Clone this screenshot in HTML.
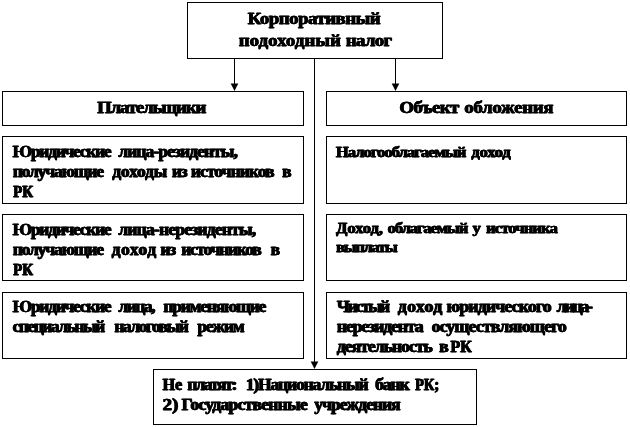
<!DOCTYPE html>
<html><head><meta charset="utf-8"><title>diagram</title>
<style>
html,body{margin:0;padding:0;background:#fff;}
body{width:630px;height:427px;overflow:hidden;position:relative;font-family:"Liberation Serif",serif;}
.b{position:absolute;box-sizing:border-box;border:1px solid #000;background:#fff;}
svg{position:absolute;left:0;top:0;}
text{font-family:"Liberation Serif",serif;font-weight:bold;fill:#000;stroke:#000;stroke-width:0.3px;stroke-linejoin:round;}
svg{filter:grayscale(1);}
</style></head><body>
<div class="b" style="left:187px;top:2px;width:256px;height:57px"></div>
<div class="b" style="left:2px;top:91px;width:302px;height:35px"></div>
<div class="b" style="left:326px;top:91px;width:301px;height:35px"></div>
<div class="b" style="left:2px;top:136px;width:302px;height:68px"></div>
<div class="b" style="left:326px;top:136px;width:301px;height:68px"></div>
<div class="b" style="left:2px;top:214px;width:302px;height:67px"></div>
<div class="b" style="left:326px;top:214px;width:301px;height:67px"></div>
<div class="b" style="left:2px;top:292px;width:302px;height:67px"></div>
<div class="b" style="left:326px;top:292px;width:301px;height:67px"></div>
<div class="b" style="left:153px;top:369px;width:324px;height:56px"></div>
<svg width="630" height="427" viewBox="0 0 630 427">
<line x1="234.5" y1="59" x2="234.5" y2="88" stroke="#000" stroke-width="1"/>
<polygon points="230.7,83.4 238.3,83.4 234.5,91" fill="#000"/>
<line x1="395.5" y1="59" x2="395.5" y2="88" stroke="#000" stroke-width="1"/>
<polygon points="391.7,83.4 399.3,83.4 395.5,91" fill="#000"/>
<line x1="314.5" y1="59" x2="314.5" y2="366" stroke="#000" stroke-width="1"/>
<polygon points="310.7,361.4 318.3,361.4 314.5,369" fill="#000"/>
<text transform="translate(247.30,23.8) scale(1,0.9091)" font-size="18.70" textLength="132.9" lengthAdjust="spacing">Корпоративный</text>
<text transform="translate(247.70,23.8) scale(1,0.9091)" font-size="18.70" textLength="132.9" lengthAdjust="spacing">Корпоративный</text>
<text transform="translate(248.10,23.8) scale(1,0.9091)" font-size="18.70" textLength="132.9" lengthAdjust="spacing">Корпоративный</text>
<text transform="translate(238.40,45.8) scale(1,0.9091)" font-size="18.70" textLength="102.1" lengthAdjust="spacing">подоходный</text>
<text transform="translate(238.80,45.8) scale(1,0.9091)" font-size="18.70" textLength="102.1" lengthAdjust="spacing">подоходный</text>
<text transform="translate(239.20,45.8) scale(1,0.9091)" font-size="18.70" textLength="102.1" lengthAdjust="spacing">подоходный</text>
<text transform="translate(345.40,45.8) scale(1,0.9091)" font-size="18.70" textLength="46.3" lengthAdjust="spacing">налог</text>
<text transform="translate(345.80,45.8) scale(1,0.9091)" font-size="18.70" textLength="46.3" lengthAdjust="spacing">налог</text>
<text transform="translate(346.20,45.8) scale(1,0.9091)" font-size="18.70" textLength="46.3" lengthAdjust="spacing">налог</text>
<text transform="translate(96.80,112.9) scale(1,0.9091)" font-size="18.70" textLength="109.1" lengthAdjust="spacing">Плательщики</text>
<text transform="translate(97.20,112.9) scale(1,0.9091)" font-size="18.70" textLength="109.1" lengthAdjust="spacing">Плательщики</text>
<text transform="translate(97.60,112.9) scale(1,0.9091)" font-size="18.70" textLength="109.1" lengthAdjust="spacing">Плательщики</text>
<text transform="translate(399.00,112.9) scale(1,0.9091)" font-size="18.70" textLength="59.8" lengthAdjust="spacing">Объект</text>
<text transform="translate(399.40,112.9) scale(1,0.9091)" font-size="18.70" textLength="59.8" lengthAdjust="spacing">Объект</text>
<text transform="translate(399.80,112.9) scale(1,0.9091)" font-size="18.70" textLength="59.8" lengthAdjust="spacing">Объект</text>
<text transform="translate(463.90,112.9) scale(1,0.9091)" font-size="18.70" textLength="89.2" lengthAdjust="spacing">обложения</text>
<text transform="translate(464.30,112.9) scale(1,0.9091)" font-size="18.70" textLength="89.2" lengthAdjust="spacing">обложения</text>
<text transform="translate(464.70,112.9) scale(1,0.9091)" font-size="18.70" textLength="89.2" lengthAdjust="spacing">обложения</text>
<text transform="translate(12.20,156.8) scale(1,0.9091)" font-size="17.38" textLength="99.0" lengthAdjust="spacing">Юридические</text>
<text transform="translate(12.60,156.8) scale(1,0.9091)" font-size="17.38" textLength="99.0" lengthAdjust="spacing">Юридические</text>
<text transform="translate(13.00,156.8) scale(1,0.9091)" font-size="17.38" textLength="99.0" lengthAdjust="spacing">Юридические</text>
<text transform="translate(118.00,156.8) scale(1,0.9091)" font-size="17.38" textLength="119.5" lengthAdjust="spacing">лица-резиденты,</text>
<text transform="translate(118.40,156.8) scale(1,0.9091)" font-size="17.38" textLength="119.5" lengthAdjust="spacing">лица-резиденты,</text>
<text transform="translate(118.80,156.8) scale(1,0.9091)" font-size="17.38" textLength="119.5" lengthAdjust="spacing">лица-резиденты,</text>
<text transform="translate(12.40,176.6) scale(1,0.9091)" font-size="17.38" textLength="91.3" lengthAdjust="spacing">получающие</text>
<text transform="translate(12.80,176.6) scale(1,0.9091)" font-size="17.38" textLength="91.3" lengthAdjust="spacing">получающие</text>
<text transform="translate(13.20,176.6) scale(1,0.9091)" font-size="17.38" textLength="91.3" lengthAdjust="spacing">получающие</text>
<text transform="translate(111.90,176.6) scale(1,0.9091)" font-size="17.38" textLength="55.0" lengthAdjust="spacing">доходы</text>
<text transform="translate(112.30,176.6) scale(1,0.9091)" font-size="17.38" textLength="55.0" lengthAdjust="spacing">доходы</text>
<text transform="translate(112.70,176.6) scale(1,0.9091)" font-size="17.38" textLength="55.0" lengthAdjust="spacing">доходы</text>
<text transform="translate(171.50,176.6) scale(1,0.9091)" font-size="17.38" textLength="15.7" lengthAdjust="spacing">из</text>
<text transform="translate(171.90,176.6) scale(1,0.9091)" font-size="17.38" textLength="15.7" lengthAdjust="spacing">из</text>
<text transform="translate(172.30,176.6) scale(1,0.9091)" font-size="17.38" textLength="15.7" lengthAdjust="spacing">из</text>
<text transform="translate(190.50,176.6) scale(1,0.9091)" font-size="17.38" textLength="83.7" lengthAdjust="spacing">источников</text>
<text transform="translate(190.90,176.6) scale(1,0.9091)" font-size="17.38" textLength="83.7" lengthAdjust="spacing">источников</text>
<text transform="translate(191.30,176.6) scale(1,0.9091)" font-size="17.38" textLength="83.7" lengthAdjust="spacing">источников</text>
<text transform="translate(281.80,176.6) scale(1,0.9091)" font-size="17.38" textLength="9.0" lengthAdjust="spacing">в</text>
<text transform="translate(282.20,176.6) scale(1,0.9091)" font-size="17.38" textLength="9.0" lengthAdjust="spacing">в</text>
<text transform="translate(282.60,176.6) scale(1,0.9091)" font-size="17.38" textLength="9.0" lengthAdjust="spacing">в</text>
<text x="12.80" y="197" font-size="15.80" textLength="19.8" lengthAdjust="spacingAndGlyphs">РК</text>
<text x="13.20" y="197" font-size="15.80" textLength="19.8" lengthAdjust="spacingAndGlyphs">РК</text>
<text x="13.60" y="197" font-size="15.80" textLength="19.8" lengthAdjust="spacingAndGlyphs">РК</text>
<text transform="translate(12.20,234.8) scale(1,0.9091)" font-size="17.38" textLength="99.0" lengthAdjust="spacing">Юридические</text>
<text transform="translate(12.60,234.8) scale(1,0.9091)" font-size="17.38" textLength="99.0" lengthAdjust="spacing">Юридические</text>
<text transform="translate(13.00,234.8) scale(1,0.9091)" font-size="17.38" textLength="99.0" lengthAdjust="spacing">Юридические</text>
<text transform="translate(118.00,234.8) scale(1,0.9091)" font-size="17.38" textLength="137.8" lengthAdjust="spacing">лица-нерезиденты,</text>
<text transform="translate(118.40,234.8) scale(1,0.9091)" font-size="17.38" textLength="137.8" lengthAdjust="spacing">лица-нерезиденты,</text>
<text transform="translate(118.80,234.8) scale(1,0.9091)" font-size="17.38" textLength="137.8" lengthAdjust="spacing">лица-нерезиденты,</text>
<text transform="translate(12.40,254.6) scale(1,0.9091)" font-size="17.38" textLength="91.3" lengthAdjust="spacing">получающие</text>
<text transform="translate(12.80,254.6) scale(1,0.9091)" font-size="17.38" textLength="91.3" lengthAdjust="spacing">получающие</text>
<text transform="translate(13.20,254.6) scale(1,0.9091)" font-size="17.38" textLength="91.3" lengthAdjust="spacing">получающие</text>
<text transform="translate(111.30,254.6) scale(1,0.9091)" font-size="17.38" textLength="44.4" lengthAdjust="spacing">доход</text>
<text transform="translate(111.70,254.6) scale(1,0.9091)" font-size="17.38" textLength="44.4" lengthAdjust="spacing">доход</text>
<text transform="translate(112.10,254.6) scale(1,0.9091)" font-size="17.38" textLength="44.4" lengthAdjust="spacing">доход</text>
<text transform="translate(160.10,254.6) scale(1,0.9091)" font-size="17.38" textLength="15.7" lengthAdjust="spacing">из</text>
<text transform="translate(160.50,254.6) scale(1,0.9091)" font-size="17.38" textLength="15.7" lengthAdjust="spacing">из</text>
<text transform="translate(160.90,254.6) scale(1,0.9091)" font-size="17.38" textLength="15.7" lengthAdjust="spacing">из</text>
<text transform="translate(180.90,254.6) scale(1,0.9091)" font-size="17.38" textLength="80.4" lengthAdjust="spacing">источников</text>
<text transform="translate(181.30,254.6) scale(1,0.9091)" font-size="17.38" textLength="80.4" lengthAdjust="spacing">источников</text>
<text transform="translate(181.70,254.6) scale(1,0.9091)" font-size="17.38" textLength="80.4" lengthAdjust="spacing">источников</text>
<text transform="translate(270.30,254.6) scale(1,0.9091)" font-size="17.38" textLength="9.1" lengthAdjust="spacing">в</text>
<text transform="translate(270.70,254.6) scale(1,0.9091)" font-size="17.38" textLength="9.1" lengthAdjust="spacing">в</text>
<text transform="translate(271.10,254.6) scale(1,0.9091)" font-size="17.38" textLength="9.1" lengthAdjust="spacing">в</text>
<text x="12.80" y="275" font-size="15.80" textLength="19.8" lengthAdjust="spacingAndGlyphs">РК</text>
<text x="13.20" y="275" font-size="15.80" textLength="19.8" lengthAdjust="spacingAndGlyphs">РК</text>
<text x="13.60" y="275" font-size="15.80" textLength="19.8" lengthAdjust="spacingAndGlyphs">РК</text>
<text transform="translate(12.20,312.3) scale(1,0.9091)" font-size="17.38" textLength="99.0" lengthAdjust="spacing">Юридические</text>
<text transform="translate(12.60,312.3) scale(1,0.9091)" font-size="17.38" textLength="99.0" lengthAdjust="spacing">Юридические</text>
<text transform="translate(13.00,312.3) scale(1,0.9091)" font-size="17.38" textLength="99.0" lengthAdjust="spacing">Юридические</text>
<text transform="translate(118.00,312.3) scale(1,0.9091)" font-size="17.38" textLength="37.1" lengthAdjust="spacing">лица,</text>
<text transform="translate(118.40,312.3) scale(1,0.9091)" font-size="17.38" textLength="37.1" lengthAdjust="spacing">лица,</text>
<text transform="translate(118.80,312.3) scale(1,0.9091)" font-size="17.38" textLength="37.1" lengthAdjust="spacing">лица,</text>
<text transform="translate(163.10,312.3) scale(1,0.9091)" font-size="17.38" textLength="102.8" lengthAdjust="spacing">применяющие</text>
<text transform="translate(163.50,312.3) scale(1,0.9091)" font-size="17.38" textLength="102.8" lengthAdjust="spacing">применяющие</text>
<text transform="translate(163.90,312.3) scale(1,0.9091)" font-size="17.38" textLength="102.8" lengthAdjust="spacing">применяющие</text>
<text transform="translate(12.20,332.1) scale(1,0.9091)" font-size="17.38" textLength="92.6" lengthAdjust="spacing">специальный</text>
<text transform="translate(12.60,332.1) scale(1,0.9091)" font-size="17.38" textLength="92.6" lengthAdjust="spacing">специальный</text>
<text transform="translate(13.00,332.1) scale(1,0.9091)" font-size="17.38" textLength="92.6" lengthAdjust="spacing">специальный</text>
<text transform="translate(114.00,332.1) scale(1,0.9091)" font-size="17.38" textLength="74.4" lengthAdjust="spacing">налоговый</text>
<text transform="translate(114.40,332.1) scale(1,0.9091)" font-size="17.38" textLength="74.4" lengthAdjust="spacing">налоговый</text>
<text transform="translate(114.80,332.1) scale(1,0.9091)" font-size="17.38" textLength="74.4" lengthAdjust="spacing">налоговый</text>
<text transform="translate(196.90,332.1) scale(1,0.9091)" font-size="17.38" textLength="47.4" lengthAdjust="spacing">режим</text>
<text transform="translate(197.30,332.1) scale(1,0.9091)" font-size="17.38" textLength="47.4" lengthAdjust="spacing">режим</text>
<text transform="translate(197.70,332.1) scale(1,0.9091)" font-size="17.38" textLength="47.4" lengthAdjust="spacing">режим</text>
<text transform="translate(335.50,157.4) scale(1,0.9091)" font-size="16.50" textLength="130.4" lengthAdjust="spacing">Налогооблагаемый</text>
<text transform="translate(335.90,157.4) scale(1,0.9091)" font-size="16.50" textLength="130.4" lengthAdjust="spacing">Налогооблагаемый</text>
<text transform="translate(336.30,157.4) scale(1,0.9091)" font-size="16.50" textLength="130.4" lengthAdjust="spacing">Налогооблагаемый</text>
<text transform="translate(471.00,157.4) scale(1,0.9091)" font-size="16.50" textLength="39.3" lengthAdjust="spacing">доход</text>
<text transform="translate(471.40,157.4) scale(1,0.9091)" font-size="16.50" textLength="39.3" lengthAdjust="spacing">доход</text>
<text transform="translate(471.80,157.4) scale(1,0.9091)" font-size="16.50" textLength="39.3" lengthAdjust="spacing">доход</text>
<text transform="translate(335.70,233.4) scale(1,0.9091)" font-size="16.50" textLength="46.9" lengthAdjust="spacing">Доход,</text>
<text transform="translate(336.10,233.4) scale(1,0.9091)" font-size="16.50" textLength="46.9" lengthAdjust="spacing">Доход,</text>
<text transform="translate(336.50,233.4) scale(1,0.9091)" font-size="16.50" textLength="46.9" lengthAdjust="spacing">Доход,</text>
<text transform="translate(387.20,233.4) scale(1,0.9091)" font-size="16.50" textLength="80.7" lengthAdjust="spacing">облагаемый</text>
<text transform="translate(387.60,233.4) scale(1,0.9091)" font-size="16.50" textLength="80.7" lengthAdjust="spacing">облагаемый</text>
<text transform="translate(388.00,233.4) scale(1,0.9091)" font-size="16.50" textLength="80.7" lengthAdjust="spacing">облагаемый</text>
<text transform="translate(472.20,233.4) scale(1,0.9091)" font-size="16.50" textLength="9.3" lengthAdjust="spacing">у</text>
<text transform="translate(472.60,233.4) scale(1,0.9091)" font-size="16.50" textLength="9.3" lengthAdjust="spacing">у</text>
<text transform="translate(473.00,233.4) scale(1,0.9091)" font-size="16.50" textLength="9.3" lengthAdjust="spacing">у</text>
<text transform="translate(485.70,233.4) scale(1,0.9091)" font-size="16.50" textLength="71.7" lengthAdjust="spacing">источника</text>
<text transform="translate(486.10,233.4) scale(1,0.9091)" font-size="16.50" textLength="71.7" lengthAdjust="spacing">источника</text>
<text transform="translate(486.50,233.4) scale(1,0.9091)" font-size="16.50" textLength="71.7" lengthAdjust="spacing">источника</text>
<text transform="translate(335.70,252.2) scale(1,0.9091)" font-size="16.50" textLength="61.6" lengthAdjust="spacing">выплаты</text>
<text transform="translate(336.10,252.2) scale(1,0.9091)" font-size="16.50" textLength="61.6" lengthAdjust="spacing">выплаты</text>
<text transform="translate(336.50,252.2) scale(1,0.9091)" font-size="16.50" textLength="61.6" lengthAdjust="spacing">выплаты</text>
<text transform="translate(336.40,312.3) scale(1,0.9091)" font-size="17.71" textLength="53.3" lengthAdjust="spacing">Чистый</text>
<text transform="translate(336.80,312.3) scale(1,0.9091)" font-size="17.71" textLength="53.3" lengthAdjust="spacing">Чистый</text>
<text transform="translate(337.20,312.3) scale(1,0.9091)" font-size="17.71" textLength="53.3" lengthAdjust="spacing">Чистый</text>
<text transform="translate(397.40,312.3) scale(1,0.9091)" font-size="17.71" textLength="44.4" lengthAdjust="spacing">доход</text>
<text transform="translate(397.80,312.3) scale(1,0.9091)" font-size="17.71" textLength="44.4" lengthAdjust="spacing">доход</text>
<text transform="translate(398.20,312.3) scale(1,0.9091)" font-size="17.71" textLength="44.4" lengthAdjust="spacing">доход</text>
<text transform="translate(446.20,312.3) scale(1,0.9091)" font-size="17.71" textLength="105.0" lengthAdjust="spacing">юридического</text>
<text transform="translate(446.60,312.3) scale(1,0.9091)" font-size="17.71" textLength="105.0" lengthAdjust="spacing">юридического</text>
<text transform="translate(447.00,312.3) scale(1,0.9091)" font-size="17.71" textLength="105.0" lengthAdjust="spacing">юридического</text>
<text transform="translate(556.30,312.3) scale(1,0.9091)" font-size="17.71" textLength="36.3" lengthAdjust="spacing">лица-</text>
<text transform="translate(556.70,312.3) scale(1,0.9091)" font-size="17.71" textLength="36.3" lengthAdjust="spacing">лица-</text>
<text transform="translate(557.10,312.3) scale(1,0.9091)" font-size="17.71" textLength="36.3" lengthAdjust="spacing">лица-</text>
<text transform="translate(336.40,331.8) scale(1,0.9091)" font-size="17.71" textLength="86.8" lengthAdjust="spacing">нерезидента</text>
<text transform="translate(336.80,331.8) scale(1,0.9091)" font-size="17.71" textLength="86.8" lengthAdjust="spacing">нерезидента</text>
<text transform="translate(337.20,331.8) scale(1,0.9091)" font-size="17.71" textLength="86.8" lengthAdjust="spacing">нерезидента</text>
<text transform="translate(431.20,331.8) scale(1,0.9091)" font-size="17.71" textLength="135.2" lengthAdjust="spacing">осуществляющего</text>
<text transform="translate(431.60,331.8) scale(1,0.9091)" font-size="17.71" textLength="135.2" lengthAdjust="spacing">осуществляющего</text>
<text transform="translate(432.00,331.8) scale(1,0.9091)" font-size="17.71" textLength="135.2" lengthAdjust="spacing">осуществляющего</text>
<text transform="translate(336.40,351.9) scale(1,0.9091)" font-size="17.71" textLength="96.0" lengthAdjust="spacing">деятельность</text>
<text transform="translate(336.80,351.9) scale(1,0.9091)" font-size="17.71" textLength="96.0" lengthAdjust="spacing">деятельность</text>
<text transform="translate(337.20,351.9) scale(1,0.9091)" font-size="17.71" textLength="96.0" lengthAdjust="spacing">деятельность</text>
<text transform="translate(438.80,351.9) scale(1,0.9091)" font-size="17.71" textLength="8.8" lengthAdjust="spacing">в</text>
<text transform="translate(439.20,351.9) scale(1,0.9091)" font-size="17.71" textLength="8.8" lengthAdjust="spacing">в</text>
<text transform="translate(439.60,351.9) scale(1,0.9091)" font-size="17.71" textLength="8.8" lengthAdjust="spacing">в</text>
<text x="450.00" y="351.9" font-size="16.10" textLength="21.4" lengthAdjust="spacingAndGlyphs">РК</text>
<text x="450.40" y="351.9" font-size="16.10" textLength="21.4" lengthAdjust="spacingAndGlyphs">РК</text>
<text x="450.80" y="351.9" font-size="16.10" textLength="21.4" lengthAdjust="spacingAndGlyphs">РК</text>
<text x="162.20" y="389.8" font-size="15.80" textLength="19.6" lengthAdjust="spacingAndGlyphs">Не</text>
<text x="162.60" y="389.8" font-size="15.80" textLength="19.6" lengthAdjust="spacingAndGlyphs">Не</text>
<text x="163.00" y="389.8" font-size="15.80" textLength="19.6" lengthAdjust="spacingAndGlyphs">Не</text>
<text transform="translate(187.00,389.8) scale(1,0.9091)" font-size="17.38" textLength="50.0" lengthAdjust="spacing">платят:</text>
<text transform="translate(187.40,389.8) scale(1,0.9091)" font-size="17.38" textLength="50.0" lengthAdjust="spacing">платят:</text>
<text transform="translate(187.80,389.8) scale(1,0.9091)" font-size="17.38" textLength="50.0" lengthAdjust="spacing">платят:</text>
<text transform="translate(245.40,389.8) scale(1,0.9091)" font-size="17.38" textLength="122.8" lengthAdjust="spacing">1)Национальный</text>
<text transform="translate(245.80,389.8) scale(1,0.9091)" font-size="17.38" textLength="122.8" lengthAdjust="spacing">1)Национальный</text>
<text transform="translate(246.20,389.8) scale(1,0.9091)" font-size="17.38" textLength="122.8" lengthAdjust="spacing">1)Национальный</text>
<text transform="translate(374.70,389.8) scale(1,0.9091)" font-size="17.71" textLength="34.6" lengthAdjust="spacing">банк</text>
<text transform="translate(375.10,389.8) scale(1,0.9091)" font-size="17.71" textLength="34.6" lengthAdjust="spacing">банк</text>
<text transform="translate(375.50,389.8) scale(1,0.9091)" font-size="17.71" textLength="34.6" lengthAdjust="spacing">банк</text>
<text x="414.70" y="389.8" font-size="16.10" textLength="24.0" lengthAdjust="spacingAndGlyphs">РК;</text>
<text x="415.10" y="389.8" font-size="16.10" textLength="24.0" lengthAdjust="spacingAndGlyphs">РК;</text>
<text x="415.50" y="389.8" font-size="16.10" textLength="24.0" lengthAdjust="spacingAndGlyphs">РК;</text>
<text x="162.20" y="409.6" font-size="15.80" textLength="15.8" lengthAdjust="spacingAndGlyphs">2)</text>
<text x="162.60" y="409.6" font-size="15.80" textLength="15.8" lengthAdjust="spacingAndGlyphs">2)</text>
<text x="163.00" y="409.6" font-size="15.80" textLength="15.8" lengthAdjust="spacingAndGlyphs">2)</text>
<text transform="translate(181.20,409.6) scale(1,0.9091)" font-size="17.38" textLength="126.1" lengthAdjust="spacing">Государственные</text>
<text transform="translate(181.60,409.6) scale(1,0.9091)" font-size="17.38" textLength="126.1" lengthAdjust="spacing">Государственные</text>
<text transform="translate(182.00,409.6) scale(1,0.9091)" font-size="17.38" textLength="126.1" lengthAdjust="spacing">Государственные</text>
<text transform="translate(313.90,409.6) scale(1,0.9091)" font-size="17.38" textLength="86.3" lengthAdjust="spacing">учреждения</text>
<text transform="translate(314.30,409.6) scale(1,0.9091)" font-size="17.38" textLength="86.3" lengthAdjust="spacing">учреждения</text>
<text transform="translate(314.70,409.6) scale(1,0.9091)" font-size="17.38" textLength="86.3" lengthAdjust="spacing">учреждения</text>
</svg></body></html>
